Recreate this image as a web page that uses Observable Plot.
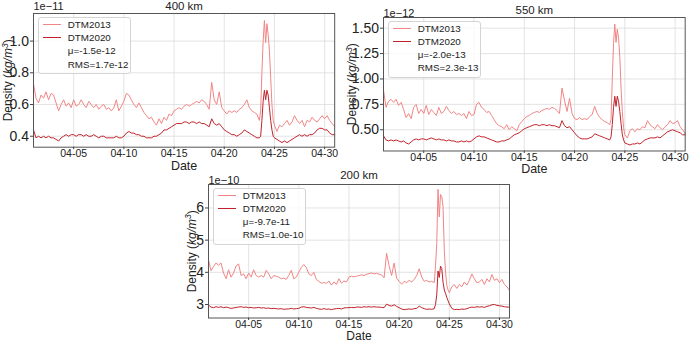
<!DOCTYPE html>
<html>
<head>
<meta charset="utf-8">
<script src="https://cdn.jsdelivr.net/npm/d3@7"></script>
<script src="https://cdn.jsdelivr.net/npm/@observablehq/plot@0.6"></script>
<style>
  body { margin: 0; background: #fff; }
  #fig { position: relative; width: 690px; height: 343px; overflow: hidden;
         font-family: "Liberation Sans", Arial, sans-serif; }
  #fig svg { position: absolute; overflow: visible; background: transparent; }
  .legend { position: absolute; box-sizing: border-box; border: 1px solid #d4d4d4;
            border-radius: 3px; background: rgba(255,255,255,0.8); font-size: 9.8px; color: #222; }
  .legend .row { position: absolute; left: 0; right: 0; height: 13px; line-height: 13px; white-space: nowrap; }
  .legend .swatch { position: absolute; left: 4px; width: 18px; top: 6px; height: 0; border-top: 1.3px solid; }
  .legend .label { position: absolute; left: 29px; top: 0; }
</style>
</head>
<body>
<div id="fig"></div>
<script>
// Sample times in days of April 2023 (1 = Apr 1 00:00 UTC):
// 6-hourly, refined to 3-hourly across the Apr 23-24 storm.
const sampleDays = [
  ...d3.range(1, 23.5, 0.25),
  ...d3.range(23.5, 25, 0.125),
  ...d3.range(25, 31.01, 0.25)
];

// Mass density at 400 km, in units of 1e-11 kg/m^3
const dtm2013_400 = [
  0.73, 0.64, 0.61, 0.66,  0.64, 0.68, 0.63, 0.67,  0.66, 0.61, 0.56, 0.60,  0.63, 0.59, 0.61, 0.58,
  0.63, 0.59, 0.60, 0.63,  0.60, 0.58, 0.62, 0.60,  0.58, 0.60, 0.57, 0.59,  0.60, 0.57, 0.58, 0.56,
  0.58, 0.63, 0.56, 0.59,  0.62, 0.67, 0.66, 0.63,  0.60, 0.58, 0.61, 0.58,  0.55, 0.53, 0.51, 0.52,
  0.49, 0.47, 0.51, 0.48,  0.52, 0.50, 0.54, 0.53,  0.56, 0.57, 0.58, 0.57,  0.59, 0.60, 0.59, 0.60,
  0.61, 0.62, 0.61, 0.63,  0.62, 0.60, 0.57, 0.74,  0.63, 0.60, 0.68, 0.58,  0.56, 0.54, 0.56, 0.55,
  0.56, 0.55, 0.57, 0.58,  0.60, 0.63, 0.58, 0.56,  0.55, 0.54,
  0.50, 0.56, 0.80, 1.00, 1.13, 0.99, 1.11, 1.04, 0.94, 0.77, 0.60, 0.50,
  0.47, 0.43, 0.47, 0.46,  0.48, 0.50, 0.47, 0.49,  0.53, 0.50, 0.48, 0.50,  0.46, 0.50, 0.49, 0.52,
  0.50, 0.49, 0.51, 0.53,  0.51, 0.53, 0.50, 0.48,  0.46
];
const dtm2020_400 = [
  0.44, 0.39, 0.40, 0.39,  0.40, 0.39, 0.40, 0.39,  0.39, 0.38, 0.37, 0.39,  0.40, 0.41, 0.40, 0.41,
  0.41, 0.40, 0.41, 0.41,  0.40, 0.41, 0.40, 0.40,  0.41, 0.40, 0.39, 0.40,  0.40, 0.39, 0.39, 0.39,
  0.39, 0.40, 0.39, 0.39,  0.40, 0.42, 0.43, 0.42,  0.42, 0.41, 0.41, 0.40,  0.40, 0.39, 0.39, 0.39,
  0.40, 0.40, 0.41, 0.42,  0.44, 0.44, 0.45, 0.46,  0.47, 0.48, 0.48, 0.48,  0.49, 0.49, 0.48, 0.49,
  0.49, 0.48, 0.49, 0.48,  0.48, 0.47, 0.46, 0.51,  0.48, 0.47, 0.48, 0.46,  0.44, 0.43, 0.42, 0.41,
  0.41, 0.40, 0.41, 0.42,  0.44, 0.43, 0.42, 0.41,  0.40, 0.39,
  0.39, 0.40, 0.50, 0.62, 0.69, 0.63, 0.69, 0.66, 0.58, 0.50, 0.44, 0.40,
  0.39, 0.38, 0.37, 0.36,  0.37, 0.36, 0.37, 0.38,  0.39, 0.40, 0.41, 0.40,  0.41, 0.40, 0.41, 0.41,
  0.42, 0.44, 0.45, 0.45,  0.44, 0.44, 0.42, 0.41,  0.41
];

// Mass density at 550 km, in units of 1e-12 kg/m^3
const dtm2013_550 = [
  0.89, 0.72, 0.78, 0.80,  0.77, 0.80, 0.74, 0.77,  0.70, 0.62, 0.66, 0.61,  0.72, 0.75, 0.66, 0.70,
  0.66, 0.74, 0.65, 0.70,  0.67, 0.64, 0.72, 0.66,  0.68, 0.73, 0.69, 0.66,  0.68, 0.65, 0.66, 0.64,
  0.66, 0.61, 0.68, 0.64,  0.65, 0.75, 0.77, 0.72,  0.70, 0.67, 0.68, 0.64,  0.60, 0.56, 0.54, 0.53,
  0.51, 0.55, 0.50, 0.53,  0.51, 0.49, 0.55, 0.58,  0.61, 0.63, 0.64, 0.66,  0.67, 0.68, 0.67, 0.69,
  0.70, 0.71, 0.70, 0.72,  0.71, 0.69, 0.66, 0.91,  0.79, 0.68, 0.81, 0.66,  0.61, 0.60, 0.62, 0.60,
  0.61, 0.60, 0.63, 0.65,  0.73, 0.66, 0.62, 0.60,  0.58, 0.57,
  0.55, 0.60, 1.00, 1.35, 1.54, 1.36, 1.49, 1.40, 1.22, 0.90, 0.68, 0.52,
  0.45, 0.42, 0.49, 0.51,  0.48, 0.51, 0.50, 0.53,  0.52, 0.59, 0.55, 0.53,  0.51, 0.55, 0.52, 0.50,
  0.53, 0.55, 0.59, 0.56,  0.57, 0.59, 0.53, 0.50,  0.46
];
const dtm2020_550 = [
  0.44, 0.40, 0.39, 0.40,  0.39, 0.40, 0.39, 0.38,  0.39, 0.37, 0.36, 0.38,  0.40, 0.41, 0.40, 0.41,
  0.41, 0.40, 0.41, 0.42,  0.41, 0.40, 0.41, 0.40,  0.40, 0.39, 0.40, 0.39,  0.39, 0.38, 0.38, 0.39,
  0.38, 0.39, 0.38, 0.39,  0.41, 0.43, 0.44, 0.43,  0.43, 0.42, 0.41, 0.40,  0.39, 0.38, 0.38, 0.39,
  0.39, 0.40, 0.41, 0.43,  0.45, 0.46, 0.47, 0.49,  0.51, 0.52, 0.53, 0.54,  0.55, 0.55, 0.54, 0.55,
  0.55, 0.54, 0.55, 0.54,  0.54, 0.53, 0.52, 0.59,  0.54, 0.52, 0.53, 0.50,  0.47, 0.44, 0.42, 0.41,
  0.41, 0.41, 0.42, 0.43,  0.46, 0.45, 0.44, 0.43,  0.42, 0.41,
  0.40, 0.43, 0.55, 0.72, 0.83, 0.73, 0.83, 0.78, 0.68, 0.56, 0.45, 0.40,
  0.37, 0.36, 0.35, 0.36,  0.36, 0.37, 0.36, 0.38,  0.40, 0.41, 0.42, 0.42,  0.42, 0.43, 0.42, 0.44,
  0.46, 0.48, 0.49, 0.50,  0.49, 0.48, 0.47, 0.45,  0.45
];

// Mass density at 200 km, in units of 1e-10 kg/m^3
const dtm2013_200 = [
  4.39, 4.05, 4.18, 4.29,  4.22, 4.29, 3.98, 3.80,  4.08, 3.85, 3.98, 4.20,  4.26, 3.90, 3.95, 3.80,
  3.98, 3.85, 4.08, 3.90,  3.85, 3.90, 3.85, 4.06,  3.95, 3.80, 3.90, 3.88,  3.85, 3.80, 3.82, 3.78,
  3.90, 4.06, 3.80, 3.85,  4.00, 4.15, 4.24, 4.15,  3.95, 3.90, 4.00, 3.78,  3.72, 3.66, 3.68, 3.66,
  3.73, 3.60, 3.70, 3.63,  3.80, 3.66, 3.73, 3.70,  3.85, 3.88, 3.86, 3.88,  3.90, 3.92, 3.90, 3.94,
  3.96, 3.98, 3.95, 3.97,  3.94, 3.92, 3.83, 4.59,  4.20, 3.90, 4.29, 3.82,  3.72, 3.63, 3.72, 3.68,
  3.75, 3.70, 3.78, 3.90,  4.11, 3.85, 3.72, 3.75,  3.70, 3.72,
  3.68, 4.20, 4.90, 6.58, 5.72, 6.42, 6.35, 6.05, 4.70, 4.00, 3.60, 3.45,
  3.37, 3.55, 3.62, 3.50,  3.62, 3.55, 3.70, 3.60,  3.75, 3.95, 3.80, 3.68,  3.70, 3.78, 3.62, 3.80,
  3.70, 3.93, 3.75, 3.80,  3.68, 3.78, 3.62, 3.55,  3.43
];
const dtm2020_200 = [
  2.98, 2.92, 2.90, 2.93,  2.91, 2.93, 2.90, 2.92,  2.90, 2.88, 2.89, 2.91,  2.92, 2.93, 2.91, 2.92,
  2.90, 2.91, 2.89, 2.90,  2.91, 2.89, 2.90, 2.88,  2.89, 2.87, 2.88, 2.87,  2.86, 2.87, 2.85, 2.86,
  2.86, 2.88, 2.86, 2.87,  2.88, 2.92, 2.93, 2.91,  2.90, 2.89, 2.91, 2.88,  2.86, 2.85, 2.87, 2.85,
  2.86, 2.84, 2.86, 2.87,  2.88, 2.86, 2.89, 2.90,  2.90, 2.91, 2.90, 2.92,  2.92, 2.91, 2.93, 2.92,
  2.93, 2.92, 2.93, 2.92,  2.92, 2.91, 2.90, 3.01,  2.97, 2.95, 2.99, 2.94,  2.90, 2.86, 2.84, 2.85,
  2.86, 2.85, 2.87, 2.88,  2.95, 2.90, 2.87, 2.85,  2.86, 2.85,
  2.87, 3.00, 3.30, 4.04, 3.84, 4.19, 4.12, 3.70, 3.45, 3.35, 3.22, 3.12,
  3.02, 2.88, 2.84, 2.85,  2.84, 2.86, 2.85, 2.87,  2.90, 2.92, 2.91, 2.93,  2.92, 2.93, 2.91, 2.94,
  2.96, 2.99, 3.00, 2.97,  2.96, 2.95, 2.93, 2.92,  2.92
];

// Panel annotations
const altitudes = ["400 km", "550 km", "200 km"];
const exponents = ["1e\u221211", "1e\u221212", "1e\u221210"];
const meanDiff = ["-1.5e-12", "-2.0e-13", "-9.7e-11"];
const rmsDiff = ["1.7e-12", "2.3e-13", "1.0e-10"];
const yTickValues = [[0.4, 0.6, 0.8, 1.0], [0.5, 0.75, 1.0, 1.25, 1.5], [3, 4, 5, 6]];
const xTickDays = [5, 10, 15, 20, 25, 30];
const seriesNames = ["DTM2013", "DTM2020"];

const colors = {DTM2013: "#f28585", DTM2020: "#c0222b"};
const toDate = (d) => new Date(Date.UTC(2023, 3, 1) + (d - 1) * 864e5);
const rowsOf = (values) => values.map((v, i) => ({date: toDate(sampleDays[i]), value: v}));

// Frame geometry of each panel on the page
const panels = [
  {fx: 33.3, fy: 13.3, fw: 301.2, fh: 133.7, domain: [0.331, 1.174], fmt: d3.format(".1f"),
   series: [dtm2013_400, dtm2020_400], titleDy: -7.6, expDy: -6.6, ylabDx: -25, dateDy: 19, dateSize: 12.5},
  {fx: 383.3, fy: 17, fw: 301.7, fh: 133.5, domain: [0.291, 1.605], fmt: d3.format(".2f"),
   series: [dtm2013_550, dtm2020_550], titleDy: -7, expDy: -4.5, ylabDx: -31, dateDy: 18.5, dateSize: 12.5},
  {fx: 208.3, fy: 184, fw: 301, fh: 133.5, domain: [2.58, 6.73], fmt: d3.format("d"),
   series: [dtm2013_200, dtm2020_200], titleDy: -9.5, expDy: -4.5, ylabDx: -16.5, dateDy: 18, dateSize: 12}
];

const fig = document.getElementById("fig");
const ml = 40, mt = 16, mr = 8, mb = 28;
const xTicks = xTickDays.map(toDate);
const yLabelText = "Density (kg/m3)";

panels.forEach((p, k) => {
  const chart = Plot.plot({
    width: p.fw + ml + mr,
    height: p.fh + mt + mb,
    marginLeft: ml, marginTop: mt, marginRight: mr, marginBottom: mb,
    style: {fontFamily: "Liberation Sans, Arial, sans-serif", background: "transparent", color: "#222"},
    x: {type: "utc", domain: [toDate(1), toDate(31)]},
    y: {domain: p.domain},
    marks: [
      Plot.gridX(xTicks, {stroke: "#dcdcdc", strokeOpacity: 1, strokeWidth: 0.8}),
      Plot.gridY(yTickValues[k], {stroke: "#dcdcdc", strokeOpacity: 1, strokeWidth: 0.8}),
      Plot.line(rowsOf(p.series[0]), {x: "date", y: "value", stroke: colors.DTM2013, strokeWidth: 1}),
      Plot.line(rowsOf(p.series[1]), {x: "date", y: "value", stroke: colors.DTM2020, strokeWidth: 1}),
      Plot.frame({stroke: "#555", strokeWidth: 1}),
      Plot.axisX(xTicks, {tickFormat: d3.utcFormat("%m-%d"), tickSize: 2.5, tickPadding: 0,
                          fontSize: 10.5, label: null, stroke: "#444"}),
      Plot.axisY(yTickValues[k], {tickFormat: p.fmt, tickSize: 3, tickPadding: 1.5,
                                  fontSize: 14, label: null, stroke: "#444"}),
      Plot.text([altitudes[k]], {text: (d) => d, frameAnchor: "top", lineAnchor: "middle",
                                 dy: p.titleDy, fontSize: 11.5}),
      Plot.text([exponents[k]], {text: (d) => d, frameAnchor: "top-left", lineAnchor: "middle",
                                 dy: p.expDy, textAnchor: "start", fontSize: 11}),
      Plot.text(["Date"], {text: (d) => d, frameAnchor: "bottom", lineAnchor: "middle",
                           dy: p.dateDy, fontSize: p.dateSize}),
      Plot.text([yLabelText], {text: (d) => d, frameAnchor: "left", lineAnchor: "middle",
                               textAnchor: "middle", dx: p.ylabDx, rotate: -90, fontSize: 12})
    ]
  });
  chart.style.left = (p.fx - ml) + "px";
  chart.style.top = (p.fy - mt) + "px";
  // Set the unit in the y label as italic with a superscript exponent
  for (const t of chart.querySelectorAll("text")) {
    if (t.textContent === yLabelText) {
      t.innerHTML = 'Density (<tspan font-style="italic">kg/m</tspan>' +
        '<tspan dy="-4.5" font-size="8.5" font-style="italic">3</tspan><tspan dy="4.5">)</tspan>';
    }
  }
  fig.appendChild(chart);

  // Legend box with line entries and the error statistics
  const box = document.createElement("div");
  box.className = "legend";
  box.style.left = (p.fx + 4.5) + "px";
  box.style.top = (p.fy + 4) + "px";
  box.style.width = "93px";
  box.style.height = "57px";
  const entries = [
    {label: seriesNames[0], color: colors.DTM2013},
    {label: seriesNames[1], color: colors.DTM2020},
    {label: "\u03bc=" + meanDiff[k]},
    {label: "RMS=" + rmsDiff[k]}
  ];
  entries.forEach((e, i) => {
    const row = document.createElement("div");
    row.className = "row";
    row.style.top = (-0.5 + 13.3 * i) + "px";
    if (e.color) {
      const sw = document.createElement("div");
      sw.className = "swatch";
      sw.style.borderTopColor = e.color;
      row.appendChild(sw);
    }
    const lab = document.createElement("span");
    lab.className = "label";
    lab.textContent = e.label;
    row.appendChild(lab);
    box.appendChild(row);
  });
  fig.appendChild(box);
});
</script>
</body>
</html>
